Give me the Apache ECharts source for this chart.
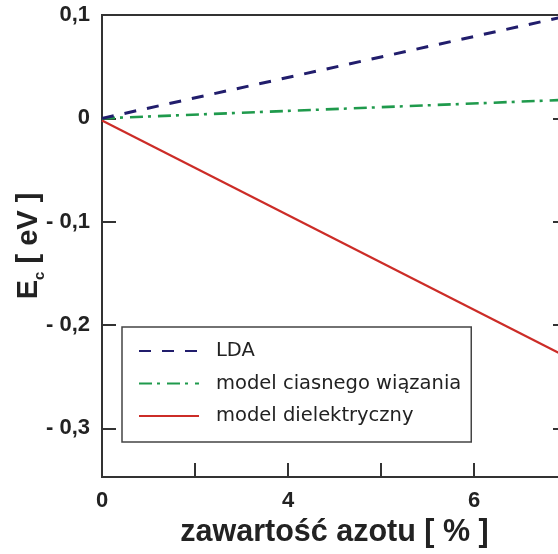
<!DOCTYPE html>
<html>
<head>
<meta charset="utf-8">
<script src="https://cdn.jsdelivr.net/npm/echarts@6/dist/echarts.min.js"></script>
<style>
  html, body { margin: 0; padding: 0; background: #ffffff; }
  #chart { width: 558px; height: 554px; }
</style>
</head>
<body>
<div id="chart"></div>
<script>
// Positions along the nitrogen-content axis (one unit per tick)
var xPoints = [0, 5];
var xTickLabels = ['0', '', '4', '', '6', ''];

// Conduction-band shift E_c [eV] for each model
var seriesNames = ['LDA', 'model ciasnego wiązania', 'model dielektryczny'];
var ldaValues = [0, 0.099];
var tightBindingValues = [0, 0.018];
var dielectricValues = [-0.002, -0.231];

// Energy axis ticks
var yTickValues = [-0.3, -0.2, -0.1, 0, 0.1];
var yTickLabels = ['- 0,3', '- 0,2', '- 0,1', '0', '0,1'];

var AXIS = '#333333';
var FONT = 'Liberation Sans, Arial, sans-serif';

function pairs(xs, ys) {
  return xs.map(function (x, i) { return [x, ys[i]]; });
}

var chart = echarts.init(document.getElementById('chart'), null, { renderer: 'canvas' });

chart.setOption({
  backgroundColor: '#ffffff',
  animation: false,
  grid: {
    left: 102, top: 15, right: -9, bottom: 77,
    outerBoundsMode: 'none',
    containLabel: false,
    show: true, borderColor: AXIS, borderWidth: 2, backgroundColor: 'transparent'
  },
  legend: {
    orient: 'vertical',
    left: 122, top: 327,
    padding: [14, 10, 16, 16],
    itemGap: 12.5,
    itemWidth: 60, itemHeight: 14,
    backgroundColor: '#ffffff',
    borderColor: '#444444', borderWidth: 1.5,
    itemStyle: { opacity: 0 },
    textStyle: { fontFamily: 'DejaVu Sans, sans-serif', fontSize: 19.5, color: '#222222', lineHeight: 18, padding: [0, 0, 0, 12] },
    data: seriesNames
  },
  xAxis: {
    type: 'value',
    min: 0, max: 5, interval: 1,
    axisLine: { show: false, onZero: false },
    axisTick: { show: true, inside: true, length: 14, lineStyle: { color: AXIS, width: 2 } },
    axisLabel: {
      margin: 13,
      fontFamily: FONT, fontWeight: 'bold', fontSize: 22, color: '#222222',
      formatter: function (v) { return xTickLabels[Math.round(v)] || ''; }
    },
    splitLine: { show: false },
    name: 'zawartość azotu [ % ]',
    nameLocation: 'middle',
    nameGap: 40,
    nameMoveOverlap: false,
    nameTextStyle: { fontFamily: FONT, fontWeight: 'bold', fontSize: 30.5, color: '#222222' }
  },
  yAxis: [
    {
      type: 'value',
      min: -0.347, max: 0.1,
      axisLine: { show: false, onZero: false },
      axisTick: { show: true, inside: true, length: 14, customValues: yTickValues, lineStyle: { color: AXIS, width: 2 } },
      axisLabel: {
        margin: 12,
        customValues: yTickValues,
        fontFamily: FONT, fontWeight: 'bold', fontSize: 22, color: '#222222',
        padding: [4, 0, 0, 0],
        formatter: function (v) {
          for (var i = 0; i < yTickValues.length; i++) {
            if (Math.abs(yTickValues[i] - v) < 1e-6) return yTickLabels[i];
          }
          return '';
        }
      },
      splitLine: { show: false },
      name: '{m|E}{s|c}{m| [ eV ]}',
      nameLocation: 'middle',
      nameRotate: 90,
      nameGap: 58,
      nameMoveOverlap: false,
      nameTextStyle: {
        rich: {
          m: { fontFamily: FONT, fontWeight: 'bold', fontSize: 29, color: '#222222', lineHeight: 30 },
          s: { fontFamily: FONT, fontWeight: 'bold', fontSize: 15, color: '#222222', verticalAlign: 'bottom', lineHeight: 30, padding: [0, 0, -3, 0] }
        }
      }
    },
    {
      type: 'value',
      position: 'right',
      min: -0.347, max: 0.1,
      axisLine: { show: false, onZero: false },
      axisTick: { show: true, inside: true, length: 14, customValues: yTickValues, lineStyle: { color: AXIS, width: 2 } },
      axisLabel: { show: false },
      splitLine: { show: false }
    }
  ],
  series: [
    {
      name: seriesNames[0], type: 'line', symbol: 'none',
      data: pairs(xPoints, ldaValues),
      lineStyle: { color: '#211d6c', width: 3, type: [12, 11] },
      itemStyle: { color: '#211d6c' },
      z: 3
    },
    {
      name: seriesNames[1], type: 'line', symbol: 'none',
      data: pairs(xPoints, tightBindingValues),
      lineStyle: { color: '#1f9a4c', width: 2.6, type: [13, 5, 3, 7] },
      itemStyle: { color: '#1f9a4c' },
      z: 2
    },
    {
      name: seriesNames[2], type: 'line', symbol: 'none',
      data: pairs(xPoints, dielectricValues),
      lineStyle: { color: '#cc2c27', width: 2.2 },
      itemStyle: { color: '#cc2c27' },
      z: 1
    }
  ]
});
</script>
</body>
</html>
